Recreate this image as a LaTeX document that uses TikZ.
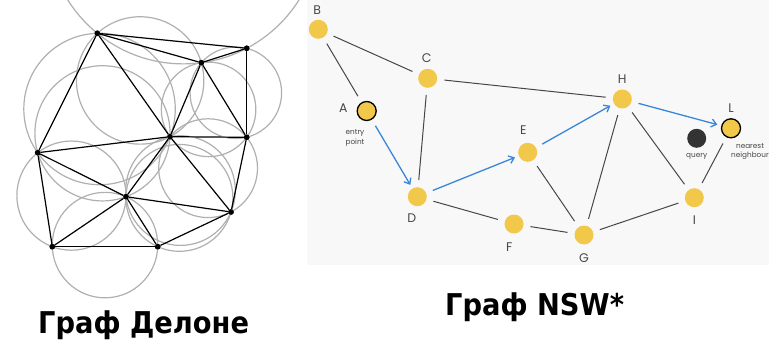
\documentclass[tikz,border=0pt]{standalone}
\usepackage{fontspec}
\usetikzlibrary{calc,arrows.meta}
\newfontfamily\lblfont{Poppins}
\newfontfamily\titlefont{DejaVu Sans}
\definecolor{nyellow}{HTML}{F2C84B}
\definecolor{nblue}{HTML}{3A86D9}
\definecolor{nedge}{HTML}{474747}
\definecolor{ncirc}{HTML}{B0B0B0}
\definecolor{npanel}{HTML}{F8F8F8}
\definecolor{nquery}{HTML}{333333}
\newcommand\ccirc[3]{%
  \coordinate (m1) at ($(#1)!0.5!(#2)$);
  \coordinate (n1) at ($(m1)!10pt!90:(#2)$);
  \coordinate (m2) at ($(#2)!0.5!(#3)$);
  \coordinate (n2) at ($(m2)!10pt!90:(#3)$);
  \coordinate (cc) at (intersection of m1--n1 and m2--n2);
  \draw[circ] let \p1=($(#1)-(cc)$), \n1={veclen(\x1,\y1)} in (cc) circle (\n1);
}
\tikzset{
  dot/.style={circle,fill=black,inner sep=0pt,minimum size=5.5pt},
  del/.style={draw=black,line width=1.2pt},
  circ/.style={draw=ncirc,line width=1.2pt},
  gnode/.style={circle,fill=nyellow,inner sep=0pt,minimum size=19pt},
  gnodeb/.style={gnode,draw=black,line width=1.3pt},
  qnode/.style={circle,fill=nquery,inner sep=0pt,minimum size=19pt},
  gedge/.style={draw=nedge,line width=1pt,shorten <=7pt,shorten >=7pt},
  bedge/.style={draw=nblue,line width=1.3pt,shorten <=7pt,shorten >=4pt,-{Straight Barb[length=5pt,width=8pt]}},
  lbl/.style={font=\lblfont\fontsize{12.5}{14}\selectfont,text=nedge,inner sep=0pt},
  small/.style={font=\lblfont\fontsize{7.3}{9.5}\selectfont,text=nedge,inner sep=0pt,align=center},
  ttl/.style={font=\titlefont\bfseries\fontsize{30}{32}\selectfont,inner sep=0pt,anchor=base west,xscale=0.91}
}
\begin{document}
\begin{tikzpicture}[x=1pt,y=-1pt]
\useasboundingbox (0,0) rectangle (776,342);
\fill[white] (0,0) rectangle (776,342);
% Delaunay points
\node[dot] (p1) at (97.3,33.3) {};
\node[dot] (p2) at (246.7,48.3) {};
\node[dot] (p3) at (201.3,62.7) {};
\node[dot] (p4) at (170,136.7) {};
\node[dot] (p5) at (246.7,137.3) {};
\node[dot] (p6) at (37.7,152.7) {};
\node[dot] (p7) at (126,196.7) {};
\node[dot] (p8) at (231,212) {};
\node[dot] (p9) at (52.3,246.7) {};
\node[dot] (p10) at (157.7,246.7) {};
\begin{scope}
\clip (0,0) rectangle (305,342);
\ccirc{p1}{p2}{p3}
\ccirc{p1}{p3}{p4}
\ccirc{p3}{p2}{p5}
\ccirc{p3}{p5}{p4}
\ccirc{p1}{p4}{p6}
\ccirc{p6}{p4}{p7}
\ccirc{p4}{p5}{p8}
\ccirc{p4}{p8}{p7}
\ccirc{p6}{p7}{p9}
\ccirc{p9}{p7}{p10}
\ccirc{p7}{p8}{p10}
\end{scope}
\foreach \a/\b in {p1/p2,p1/p3,p3/p2,p2/p5,p3/p5,p3/p4,p1/p4,p1/p6,p6/p4,p4/p5,p5/p8,p4/p8,p4/p7,p6/p7,p6/p9,p7/p9,p7/p10,p9/p10,p10/p8,p7/p8}
  \draw[del] (\a) -- (\b);
\foreach \p in {p1,p2,p3,p4,p5,p6,p7,p8,p9,p10}
  \fill (\p) circle (2.8pt);
% NSW panel
\fill[npanel] (307,0) rectangle (769,265);
\node[gnode] (B) at (318.3,29.3) {};
\node[gnode] (C) at (427.7,78.3) {};
\node[gnodeb] (A) at (366.7,111) {};
\node[gnode] (H) at (622.3,99) {};
\node[gnodeb] (L) at (731,128.3) {};
\node[qnode] (Q) at (696.7,138.3) {};
\node[gnode] (E) at (527.7,152.3) {};
\node[gnode] (D) at (417.3,196.7) {};
\node[gnode] (F) at (514,224) {};
\node[gnode] (G) at (584,235) {};
\node[gnode] (I) at (694.3,197.7) {};
\foreach \a/\b in {B/A,B/C,C/H,C/D,D/F,F/G,E/G,G/H,H/I,G/I,I/L}
  \draw[gedge] (\a) -- (\b);
\foreach \a/\b in {A/D,D/E,E/H,H/L}
  \draw[bedge] (\a) -- (\b);
\node[lbl] (lB) at (317.3,10.5) {B};
\node[lbl] (lC) at (426.7,58.5) {C};
\node[lbl] (lA) at (343.3,108.5) {A};
\node[lbl] (lH) at (622.3,79.3) {H};
\node[lbl] (lL) at (731,108.3) {L};
\node[lbl] (lE) at (523.3,130) {E};
\node[lbl] (lD) at (411.7,218.3) {D};
\node[lbl] (lF) at (509.3,246.7) {F};
\node[lbl] (lG) at (584,257.7) {G};
\node[lbl] (lI) at (694.3,220) {I};
\node[small] (tentry) at (355,138) {entry\\point};
\node[small] (tquery) at (696.7,156.7) {query};
\node[small] (tnear) at (750,151.5) {nearest\\neighbour};
% titles
\node[ttl] (t1) at (38,333) {Граф Делоне};
\node[ttl] (t2) at (445,315) {Граф NSW*};
\end{tikzpicture}
\end{document}
